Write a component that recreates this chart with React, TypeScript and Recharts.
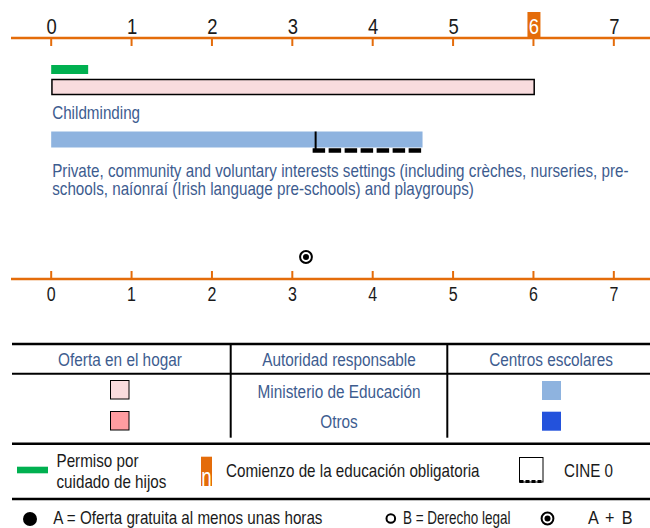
import { BarChart, Bar, XAxis, YAxis, ScatterChart, Scatter } from "recharts";

// ages on the axes and the compulsory-school age that gets highlighted
const ages = [0, 1, 2, 3, 4, 5, 6, 7];
const compulsoryAge = 6;

// childcare leave (years)
const leaveFrom = [0];
const leaveTo = [0.46];

// settings
const settingKinds = ["home", "centre"];
const settingLabels = [
  ["Childminding"],
  [
    "Private, community and voluntary interests settings (including crèches, nurseries, pre-",
    "schools, naíonraí (Irish language pre-schools) and playgroups)",
  ],
];
const settingFrom = [0, 0];
const settingTo = [6, 4.62];

// ISCED 0 span inside the centre-based setting
const iscedFrom = [3.29];
const iscedTo = [4.62];

// A + B marker (free hours + legal entitlement)
const freeLegalAge = [3.17];

// legend texts
const tableHeads = ["Oferta en el hogar", "Autoridad responsable", "Centros escolares"];
const authorities = ["Ministerio de Educación", "Otros"];

const ORANGE = "#E46C0A";
const GREEN = "#00B050";
const TEXT_BLUE = "#3D5C8F";
const INK = "#1a1a1a";
const HOME_COLORS = ["#F9DCDE", "#FF9CA0"];
const CENTRE_COLORS = ["#8EB3DF", "#2352DC"];
const FONT = "'Liberation Sans', Arial, sans-serif";
const DOMAIN: [number, number] = [-0.5, 7.45];

// condensed text: regular sans squeezed horizontally around its anchor
const N = ({ x, y, size, fill, anchor = "start", sq = 0.82, ls, children }: any) => (
  <text
    transform={`translate(${x},${y}) scale(${sq},1)`}
    x={0}
    y={0}
    textAnchor={anchor}
    fontSize={size}
    fontFamily={FONT}
    fill={fill}
    letterSpacing={ls}
  >
    {children}
  </text>
);

const rows = [
  { row: "leave", kind: "leave", span: [leaveFrom[0], leaveTo[0]] },
  { row: settingKinds[0], kind: settingKinds[0], span: [settingFrom[0], settingTo[0]], label: settingLabels[0] },
  { row: "gap1" },
  { row: "gap2" },
  {
    row: settingKinds[1],
    kind: settingKinds[1],
    span: [settingFrom[1], settingTo[1]],
    label: settingLabels[1],
    isced: [iscedFrom[0], iscedTo[0]],
  },
];

const markers = freeLegalAge.map((age) => ({ age, level: 0.5 }));

const TopTick = (props: any) => {
  const { x, y, payload } = props;
  const hi = payload.value === compulsoryAge;
  return (
    <g>
      <line x1={x} x2={x} y1={y} y2={y + 8} stroke={ORANGE} strokeWidth={2} />
      {hi && <rect x={x - 6} y={y - 26} width={13} height={25} fill={ORANGE} />}
      <N x={x + 0.5} y={y - 4.5} size={22.5} anchor="middle" fill={hi ? "#fff" : INK}>
        {payload.value}
      </N>
    </g>
  );
};

const BottomTick = (props: any) => {
  const { x, y, payload } = props;
  return (
    <g>
      <line x1={x} x2={x} y1={y} y2={y - 8} stroke={ORANGE} strokeWidth={2} />
      <N x={x} y={y + 21.5} size={19.5} anchor="middle" fill={INK}>
        {payload.value}
      </N>
    </g>
  );
};

const SpanShape = (props: any) => {
  const { x, y, width, height, payload } = props;
  if (!payload || !payload.kind || !isFinite(width)) return null;
  const cy = y + height / 2;
  if (payload.kind === "leave") {
    return <rect x={x} y={cy - 4.5} width={width} height={9} fill={GREEN} />;
  }
  const home = payload.kind === "home";
  const labelY = home ? cy + 31.5 : cy + 37;
  return (
    <g>
      {home ? (
        <rect x={x + 0.75} y={cy - 7.5} width={width} height={15} fill={HOME_COLORS[0]} stroke="#000" strokeWidth={1.5} />
      ) : (
        <rect x={x} y={cy - 8} width={width} height={16} fill={CENTRE_COLORS[0]} />
      )}
      {(payload.label || []).map((t: string, i: number) => (
        <N key={i} x={x + 1} y={labelY + i * 18.5} size={18} sq={0.845} fill={TEXT_BLUE}>
          {t}
        </N>
      ))}
    </g>
  );
};

const IscedShape = (props: any) => {
  const { x, y, width, height, payload } = props;
  if (!payload || !payload.isced || !isFinite(width)) return null;
  const cy = y + height / 2;
  return (
    <g>
      <line x1={x} x2={x} y1={cy - 8} y2={cy + 12} stroke="#000" strokeWidth={2} />
      <line x1={x - 3} x2={x + width + 1.5} y1={cy + 11} y2={cy + 11} stroke="#000" strokeWidth={4.5} strokeDasharray="12.5 3.5" />
    </g>
  );
};

const RingDot = (props: any) => {
  const { cx, cy } = props;
  return (
    <g>
      <circle cx={cx} cy={cy} r={5.9} fill="none" stroke="#000" strokeWidth={2} />
      <circle cx={cx} cy={cy} r={3} fill="#000" />
    </g>
  );
};

const LegendPanel = () => {
  const heads = [120, 339, 551];
  const LG = 18;
  const LSQ = 0.845;
  return (
    <svg width={650} height={198} style={{ position: "absolute", left: 0, top: 330 }}>
      <g transform="translate(0,-330)">
        <line x1={12} x2={650} y1={344} y2={344} stroke="#000" strokeWidth={2.5} />
        {tableHeads.map((t, i) => (
          <N key={t} x={heads[i]} y={366} size={18.5} sq={0.83} anchor="middle" fill={TEXT_BLUE}>
            {t}
          </N>
        ))}
        <line x1={12} x2={650} y1={373.7} y2={373.7} stroke="#000" strokeWidth={2} />
        <line x1={230.7} x2={230.7} y1={344} y2={437.7} stroke="#000" strokeWidth={2} />
        <line x1={447.3} x2={447.3} y1={344} y2={437.7} stroke="#000" strokeWidth={2} />
        {authorities.map((t, i) => (
          <g key={t}>
            <rect x={110.5} y={380.5 + i * 31} width={18.5} height={18.5} fill={HOME_COLORS[i]} stroke="#000" strokeWidth={1} />
            <N x={339} y={397.5 + i * 30.5} size={18.5} sq={0.83} anchor="middle" fill={TEXT_BLUE}>
              {t}
            </N>
            <rect x={542} y={381 + i * 30.7} width={19} height={19} fill={CENTRE_COLORS[i]} />
          </g>
        ))}
        <line x1={12} x2={650} y1={443.7} y2={443.7} stroke="#000" strokeWidth={2.5} />

        <rect x={17} y={466.7} width={31} height={6.6} fill={GREEN} />
        <N x={56.5} y={466.7} size={LG} sq={LSQ} fill={INK}>Permiso por</N>
        <N x={56.5} y={487.7} size={LG} sq={LSQ} fill={INK}>cuidado de hijos</N>
        <rect x={201} y={456.7} width={11} height={29.3} fill={ORANGE} />
        <N x={206.5} y={485.5} size={26} sq={0.72} anchor="middle" fill="#fff">n</N>
        <N x={226} y={476.7} size={LG} sq={LSQ} fill={INK}>Comienzo de la educación obligatoria</N>
        <rect x={519.5} y={457.5} width={23.5} height={24.5} fill="none" stroke="#000" strokeWidth={1} />
        <line x1={519.5} x2={543} y1={481.5} y2={481.5} stroke="#000" strokeWidth={3} strokeDasharray="4 2" />
        <N x={564} y={476.5} size={LG} sq={LSQ} fill={INK}>CINE 0</N>
        <line x1={12} x2={650} y1={499} y2={499} stroke="#000" strokeWidth={2.5} />

        <circle cx={30} cy={519} r={7} fill="#000" />
        <N x={53.3} y={523.5} size={LG} sq={LSQ} fill={INK}>A = Oferta gratuita al menos unas horas</N>
        <circle cx={390.8} cy={518.5} r={4.3} fill="none" stroke="#000" strokeWidth={2} />
        <N x={403} y={523.5} size={17.5} sq={0.77} fill={INK}>B = Derecho legal</N>
        <circle cx={547.5} cy={518.5} r={5.9} fill="none" stroke="#000" strokeWidth={2} />
        <circle cx={547.5} cy={518.5} r={3} fill="#000" />
        <N x={588} y={523.5} size={LG} sq={0.9} ls={1.5} fill={INK}>A + B</N>
      </g>
    </svg>
  );
};

export default function App() {
  return (
    <div style={{ position: "absolute", left: 0, top: 0, width: 650, height: 528, background: "#fff", overflow: "hidden" }}>
      <div style={{ position: "absolute", left: 0, top: 0 }}>
        <BarChart width={650} height={205} data={rows} layout="vertical" margin={{ top: 0, right: 0, bottom: 0, left: 11 }}>
          <XAxis
            type="number"
            orientation="top"
            domain={DOMAIN}
            ticks={ages}
            height={38}
            tickSize={0}
            tickMargin={0}
            tickLine={false}
            axisLine={{ stroke: ORANGE, strokeWidth: 2.5 }}
            tick={<TopTick />}
            interval={0}
          />
          <YAxis type="category" dataKey="row" hide padding={{ top: 22.75, bottom: 56.75 }} />
          <YAxis yAxisId="isced" type="category" dataKey="row" hide padding={{ top: 22.75, bottom: 56.75 }} />
          <Bar dataKey="span" isAnimationActive={false} shape={<SpanShape />} />
          <Bar dataKey="isced" yAxisId="isced" isAnimationActive={false} shape={<IscedShape />} />
        </BarChart>
      </div>
      <div style={{ position: "absolute", left: 0, top: 235 }}>
        <ScatterChart width={650} height={75} margin={{ top: 0, right: 0, bottom: 0, left: 11 }}>
          <XAxis
            type="number"
            dataKey="age"
            orientation="bottom"
            domain={DOMAIN}
            ticks={ages}
            height={31}
            tickSize={0}
            tickMargin={0}
            tickLine={false}
            axisLine={{ stroke: ORANGE, strokeWidth: 2.5 }}
            tick={<BottomTick />}
            interval={0}
          />
          <YAxis type="number" dataKey="level" domain={[0, 1]} hide />
          <Scatter data={markers} isAnimationActive={false} shape={<RingDot />} />
        </ScatterChart>
      </div>
      <LegendPanel />
    </div>
  );
}
